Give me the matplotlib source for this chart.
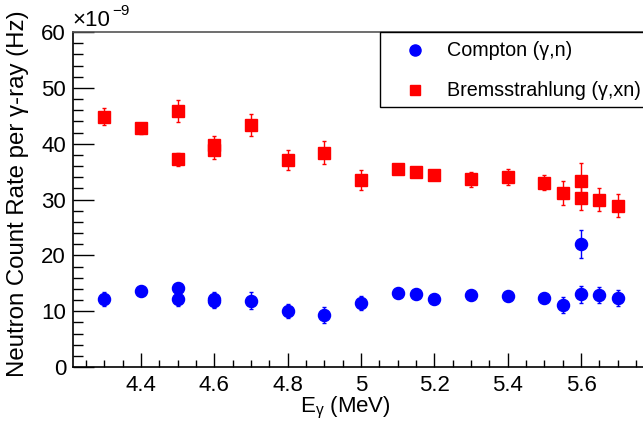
import matplotlib
matplotlib.use("Agg")
import matplotlib.pyplot as plt
from matplotlib.patches import Rectangle
from matplotlib.lines import Line2D
from matplotlib.ticker import MultipleLocator
import numpy as np

plt.rcParams['font.family'] = ['Liberation Sans', 'DejaVu Sans']
plt.rcParams['mathtext.default'] = 'regular'

# Data (values in units of 1e-9 Hz)
compton_E = [4.3, 4.4, 4.5, 4.5, 4.6, 4.6, 4.7, 4.8, 4.9, 5.0, 5.1, 5.15, 5.2, 5.3, 5.4, 5.5, 5.55, 5.6, 5.6, 5.65, 5.7]
compton_rate = [12.2, 13.7, 14.15, 12.25, 12.1, 11.8, 11.9, 10.0, 9.3, 11.5, 13.2, 13.0, 12.2, 12.9, 12.8, 12.3, 11.1, 22.0, 13.0, 12.9, 12.4]
compton_err = [1.2, 0.6, 0.6, 1.4, 1.4, 1.2, 1.5, 1.3, 1.4, 1.3, 0.5, 0.5, 0.5, 0.6, 0.6, 0.6, 1.5, 2.45, 1.55, 1.5, 1.45]

brems_E = [4.3, 4.4, 4.5, 4.5, 4.6, 4.6, 4.7, 4.8, 4.9, 5.0, 5.1, 5.15, 5.2, 5.3, 5.4, 5.5, 5.55, 5.6, 5.6, 5.65, 5.7]
brems_rate = [44.8, 42.75, 45.85, 37.2, 39.7, 38.8, 43.35, 37.1, 38.4, 33.5, 35.4, 35.0, 34.3, 33.6, 34.0, 33.0, 31.1, 33.3, 30.3, 30.0, 28.9]
brems_err = [1.5, 1.0, 1.9, 1.2, 1.7, 1.5, 2.0, 1.8, 2.0, 1.8, 0.8, 0.8, 0.8, 1.4, 1.4, 1.3, 2.15, 3.2, 2.2, 2.0, 2.0]

labels = ['Compton (γ,n)', 'Bremsstrahlung (γ,xn)']

W, H = 643, 421
fig = plt.figure(figsize=(W / 100, H / 100), dpi=100)
ax = fig.add_axes([73 / W, 54 / H, (W - 73) / W, (367 - 32) / H])

ax.errorbar(compton_E, compton_rate, yerr=compton_err, fmt='o', color='#0000ff',
            markersize=8.7, elinewidth=1, capsize=1.5, capthick=1, zorder=3)
ax.errorbar(brems_E, brems_rate, yerr=brems_err, fmt='s', color='#ff0000',
            markersize=8.4, elinewidth=1, capsize=1.5, capthick=1, zorder=3)

ax.set_xlim(4.2146, 5.769)
ax.set_ylim(0, 60)
ax.xaxis.set_major_locator(MultipleLocator(0.2))
ax.xaxis.set_minor_locator(MultipleLocator(0.05))
ax.yaxis.set_major_locator(MultipleLocator(10))
ax.yaxis.set_minor_locator(MultipleLocator(2))
ax.xaxis.set_major_formatter(plt.FuncFormatter(lambda v, p: f"{v:g}"))
ax.tick_params(axis='x', which='major', direction='in', length=10, width=1, pad=6, labelsize=16)
ax.tick_params(axis='x', which='minor', direction='in', length=5, width=1)
ax.tick_params(axis='y', which='major', direction='in', length=15, width=1, pad=5, labelsize=16)
ax.tick_params(axis='y', which='minor', direction='in', length=7, width=1)
ax.spines['right'].set_visible(False)
for s in ['left', 'bottom', 'top']:
    ax.spines[s].set_linewidth(1.2)
ax.spines['top'].set_color('#555555')

fig.text(72 / W, 1 - 21 / H, '×10', fontsize=16, ha='left', va='center')
fig.text(112 / W, 1 - 11 / H, '−9', fontsize=11, ha='left', va='center')
fig.text(345 / W, 1 - 408 / H, 'E$_{γ}$ (MeV)', fontsize=16, ha='center', va='center')
fig.text(18 / W, 1 - 194 / H, 'Neutron Count Rate per γ-ray (Hz)', fontsize=17.3,
         rotation=90, ha='center', va='center')

# legend
fig.patches.append(Rectangle((380 / W, 1 - 107 / H), (660 - 380) / W, (107 - 32) / H,
                             transform=fig.transFigure, fill=True, facecolor='white',
                             edgecolor='black', linewidth=1, zorder=5))
fig.lines.append(Line2D([415 / W], [1 - 50 / H], marker='o', color='#0000ff', markersize=8,
                        linestyle='none', transform=fig.transFigure, zorder=6))
fig.lines.append(Line2D([415 / W], [1 - 90 / H], marker='s', color='#ff0000', markersize=7.5,
                        linestyle='none', transform=fig.transFigure, zorder=6))
fig.text(447 / W, 1 - 50 / H, labels[0], fontsize=14.2, ha='left', va='center', zorder=7)
fig.text(447 / W, 1 - 90 / H, labels[1], fontsize=14.2, ha='left', va='center', zorder=7)

fig.savefig('out.png', dpi=100)
